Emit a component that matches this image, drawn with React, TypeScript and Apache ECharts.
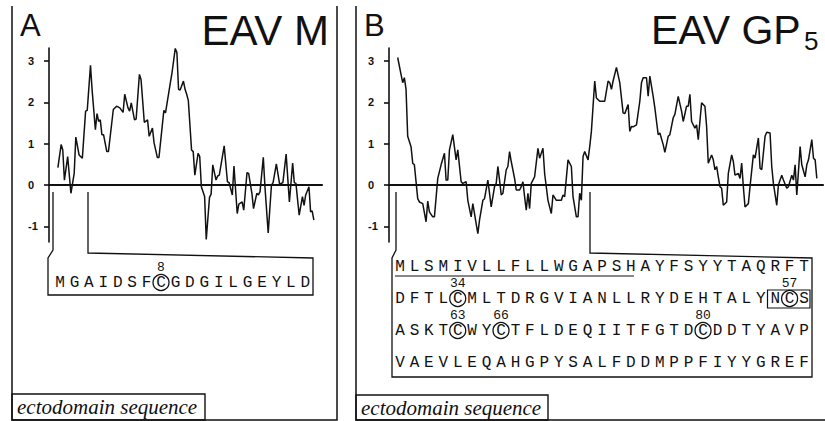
import { useEffect, useRef } from "react";
import * as echarts from "echarts";

// ---------- data ----------
// Panel A (EAV M) hydropathy profile: residue position / value
const posA = [4,6,7,8,10,12,14,15,17,19,21,22,24,25,27,28,29,30,31,32,34,35,38,40,42,44,45,47,48,49,51,52,54,55,57,59,60,62,63,65,66,69,70,73,74,76,77,78,79,81,82,83,84,86,87,88,90,91,92,94,95,97,98,99,101,102,103,106,108,109,111,112,114,115,117,118,120,121,123,124,126,127,128,130,131,133,135,136,138,140,142,144,146,148,149,150,152,154,155,156,158,159,160,161];
const hydA = [0.42,0.98,0.85,0.12,0.69,-0.2,0.28,1.16,0.73,0.65,1.79,1.81,2.9,2.3,1.34,1.73,1.54,1.58,1.22,1.22,0.81,0.81,1.83,1.91,1.87,1.76,2.2,1.87,1.79,1.99,1.58,1.6,2.68,2.56,1.52,1.58,1.18,1.38,1.02,0.67,0.67,1.81,1.75,2.48,2.72,3.31,3.21,2.32,2.3,2.52,2.32,2.2,2.05,0.85,0.81,0.24,0.77,0.69,-0.04,-0.28,-1.32,-0.3,-0.22,0.49,0.12,0.22,0.24,0.95,0.08,0.06,-0.24,0.46,-0.69,-0.46,-0.41,-0.61,0.3,0.28,-0.2,-0.57,-0.2,-0.24,-0.16,0.67,-0.04,-1.16,0,0.06,0.51,0.02,0.06,0.75,-0.41,0.53,0.06,0.04,-0.73,-0.28,-0.49,-0.24,-0.04,-0.65,-0.63,-0.85];

// Panel B (EAV GP5) hydropathy profile
const posB = [2,4,5,6,7,8,10,11,12,14,15,17,19,20,21,23,24,26,28,30,31,32,33,35,37,38,40,41,43,44,46,47,50,51,53,54,56,57,58,60,61,62,63,64,65,67,68,69,70,72,73,75,76,77,78,79,80,81,82,84,86,87,89,90,92,94,95,97,100,101,102,104,106,107,109,110,111,112,113,114,116,117,118,120,121,123,126,128,129,130,131,133,135,137,138,140,141,142,143,145,147,148,149,151,152,153,155,156,158,159,161,162,164,165,167,168,170,172,173,175,176,177,178,180,181,182,184,186,187,188,190,191,192,193,194,195,196,197,199,200,202,203,204,206,207,208,209,210,212,213,215,216,218,219,220,222,223,225,226,227,229,230,232,233,235,236,238,239,240,241,242,243,244,246,247,248,250,251,252,253];
const hydB = [3.09,2.68,2.48,2.6,2.32,1.18,0.93,0.53,0.49,-0.33,-0.41,-0.45,-0.89,-0.39,-0.65,-0.77,-0.77,0.16,0.49,0.77,0.12,0.12,0.85,1.22,0.61,0.85,0.08,0.04,0.08,-0.37,-0.77,-0.45,-1.18,-0.85,-0.37,-0.33,0.12,-0.2,-0.53,-0.04,0.04,0.45,0.12,-0.24,-0.2,0.37,0.45,0.81,0.57,0.16,-0.12,-0.12,-0.04,0.08,-0.28,-0.61,-0.2,-0.57,0.04,0.2,0.89,0.65,0.89,0.28,-0.37,-0.69,-0.24,-0.37,-0.37,-0.24,-0.28,0.61,0.45,-0.28,-0.77,-0.77,-0.2,-0.37,0.69,0.81,0.61,0.93,1.3,2.52,2.11,2.03,2.03,2.52,2.48,2.32,2.52,2.85,2.48,1.75,1.73,1.95,1.3,1.42,1.41,1.46,2.03,2.48,2.6,2.6,2.15,2.64,2.15,1.87,1.22,1.26,0.98,0.79,1.18,1.22,1.63,1.71,2.15,1.79,1.54,1.91,1.91,2.2,1.54,1.38,1.46,1.1,1.99,1.91,1.42,0.53,0.73,0.61,0.37,0.45,0.2,-0.04,-0.08,-0.49,-0.41,0.28,0.73,0.57,0.24,0.28,0.16,0.53,-0.04,-0.53,-0.45,-0.04,0.73,0.65,1.14,0.41,0.37,1.18,1.28,1.26,0.45,0.04,-0.49,0,0.24,0.12,-0.08,-0.04,0.24,0.12,0.49,-0.24,0.33,0.93,0.49,0.2,0.49,0.61,1.1,0.65,0.61,0.16];

const yTicks = [-1, 0, 1, 2, 3];

const titleA = "EAV M";
const titleB = "EAV GP";
const titleBSub = "5";
const footLabel = "ectodomain sequence";

const seqA = ["MGAIDSFCGDGILGEYLD"];
const seqB = [
  "MLSMIVLLFLLWGAPSHAYFSYYTAQRFT",
  "DFTLCMLTDRGVIANLLRYDEHTALYNCS",
  "ASKTCWYCTFLDEQIITFGTDCDDTYAVP",
  "VAEVLEQAHGPYSALFDDMPPFIYYGREF",
];
const cysA = [{ row: 0, idx: 7, num: "8" }];
const cysB = [
  { row: 1, idx: 4, num: "34" },
  { row: 1, idx: 27, num: "57" },
  { row: 2, idx: 4, num: "63" },
  { row: 2, idx: 7, num: "66" },
  { row: 2, idx: 21, num: "80" },
];

// ---------- styling / layout ----------
const INK = "#111111";
const SANS = '"Liberation Sans", Arial, sans-serif';
const MONO = '"Liberation Mono", "Courier New", monospace';
const SERIF = '"Liberation Serif", "Times New Roman", serif';
const PITCH = 14.43;

function letters(rows: string[], x0: number, ys: number[]) {
  const out: any[] = [];
  rows.forEach((row, r) => {
    row.split("").forEach((ch, i) => {
      out.push({
        type: "text",
        x: x0 + i * PITCH,
        y: ys[r],
        silent: true,
        style: { text: ch, fontFamily: MONO, fontSize: 16, fill: INK, align: "center", verticalAlign: "middle" },
      });
    });
  });
  return out;
}

function cysMarks(list: { row: number; idx: number; num: string }[], x0: number, ys: number[]) {
  const out: any[] = [];
  list.forEach((c) => {
    const cx = x0 + c.idx * PITCH;
    const cy = ys[c.row];
    out.push({ type: "circle", silent: true, shape: { cx, cy: cy - 0.5, r: 8 }, style: { fill: "none", stroke: INK, lineWidth: 1.3 } });
    out.push({
      type: "text",
      x: cx,
      y: cy - 16,
      silent: true,
      style: { text: c.num, fontFamily: MONO, fontSize: 13, fill: INK, align: "center", verticalAlign: "middle" },
    });
  });
  return out;
}

function line(points: number[][], w = 1.2) {
  return { type: "polyline", silent: true, shape: { points }, style: { fill: "none", stroke: INK, lineWidth: w } };
}

function yAxisCfg(gridIndex: number) {
  return {
    gridIndex,
    type: "value",
    min: -1.38,
    max: 3.32,
    axisLine: { show: true, onZero: false, lineStyle: { color: INK, width: 1.6 } },
    axisTick: { show: true, length: 5, customValues: yTicks, lineStyle: { color: INK, width: 1.6 } },
    axisLabel: {
      customValues: yTicks,
      align: "left",
      margin: 21,
      fontWeight: "bold",
      fontSize: 11,
      fontFamily: SANS,
      color: INK,
    },
    splitLine: { show: false },
  };
}

function xAxisCfg(gridIndex: number, min: number, max: number) {
  return {
    gridIndex,
    type: "value",
    min,
    max,
    axisLine: { show: true, onZero: true, lineStyle: { color: INK, width: 2.2 } },
    axisTick: { show: false },
    axisLabel: { show: false },
    splitLine: { show: false },
  };
}

export default function App() {
  const ref = useRef<HTMLDivElement>(null);
  useEffect(() => {
    if (!ref.current) return;
    const chart = echarts.init(ref.current, undefined, { renderer: "svg" });
    const rowsA = [283];
    const rowsB = [267, 299, 331, 363];
    const graphics: any[] = [
      // panel frames
      line([[12, 6], [12, 420], [337, 420], [337, 6]], 1.5),
      line([[356, 6], [356, 420], [825, 420]], 1.5),
      // titles
      { type: "text", x: 20, y: 25, silent: true, style: { text: "A", fontFamily: SANS, fontSize: 31, fill: INK, align: "left", verticalAlign: "middle" } },
      { type: "text", x: 329, y: 30, silent: true, style: { text: titleA, fontFamily: SANS, fontSize: 42, fill: INK, align: "right", verticalAlign: "middle" } },
      { type: "text", x: 364, y: 25, silent: true, style: { text: "B", fontFamily: SANS, fontSize: 31, fill: INK, align: "left", verticalAlign: "middle" } },
      { type: "text", x: 651, y: 30, silent: true, style: { text: titleB, fontFamily: SANS, fontSize: 41, fill: INK, align: "left", verticalAlign: "middle" } },
      { type: "text", x: 804, y: 41, silent: true, style: { text: titleBSub, fontFamily: SANS, fontSize: 26, fill: INK, align: "left", verticalAlign: "middle" } },
      // brackets + sequence boxes
      line([[53, 192], [53, 250], [48, 258], [48, 295], [313, 295], [313, 258], [88, 253], [88, 192]], 1.3),
      line([[396, 192], [396, 250], [392, 258], [392, 377], [812, 377], [812, 258], [590, 253], [590, 192]], 1.3),
      // signal peptide underline
      line([[395, 276], [634, 276]], 1.1),
      // NCS box
      { type: "rect", silent: true, shape: { x: 767.5, y: 290, width: 42.5, height: 18 }, style: { fill: "none", stroke: INK, lineWidth: 1.2 } },
      // footer label boxes
      { type: "rect", silent: true, shape: { x: 12, y: 394, width: 193, height: 26 }, style: { fill: "none", stroke: INK, lineWidth: 1.4 } },
      { type: "text", x: 17, y: 407, silent: true, style: { text: footLabel, fontFamily: SERIF, fontStyle: "italic", fontSize: 21, fill: INK, align: "left", verticalAlign: "middle" } },
      { type: "rect", silent: true, shape: { x: 356, y: 395, width: 192, height: 25 }, style: { fill: "none", stroke: INK, lineWidth: 1.4 } },
      { type: "text", x: 361, y: 407.5, silent: true, style: { text: footLabel, fontFamily: SERIF, fontStyle: "italic", fontSize: 21, fill: INK, align: "left", verticalAlign: "middle" } },
      ...letters(seqA, 60, rowsA),
      ...cysMarks(cysA, 60, rowsA),
      ...letters(seqB, 400, rowsB),
      ...cysMarks(cysB, 400, rowsB),
    ];

    chart.setOption({
      animation: false,
      backgroundColor: "#ffffff",
      grid: [
        { left: 49, top: 48, width: 273, height: 194 },
        { left: 389, top: 48, width: 434, height: 194 },
      ],
      xAxis: [xAxisCfg(0, -1.45, 166), xAxisCfg(1, -3.2, 256.7)],
      yAxis: [yAxisCfg(0), yAxisCfg(1)],
      series: [
        {
          type: "line",
          xAxisIndex: 0,
          yAxisIndex: 0,
          data: posA.map((p, i) => [p, hydA[i]]),
          showSymbol: false,
          silent: true,
          lineStyle: { color: INK, width: 1.5 },
        },
        {
          type: "line",
          xAxisIndex: 1,
          yAxisIndex: 1,
          data: posB.map((p, i) => [p, hydB[i]]),
          showSymbol: false,
          silent: true,
          lineStyle: { color: INK, width: 1.5 },
        },
      ],
      graphic: graphics,
    });
    return () => chart.dispose();
  }, []);
  return <div ref={ref} style={{ position: "absolute", left: 0, top: 0, width: 825, height: 421 }} />;
}
